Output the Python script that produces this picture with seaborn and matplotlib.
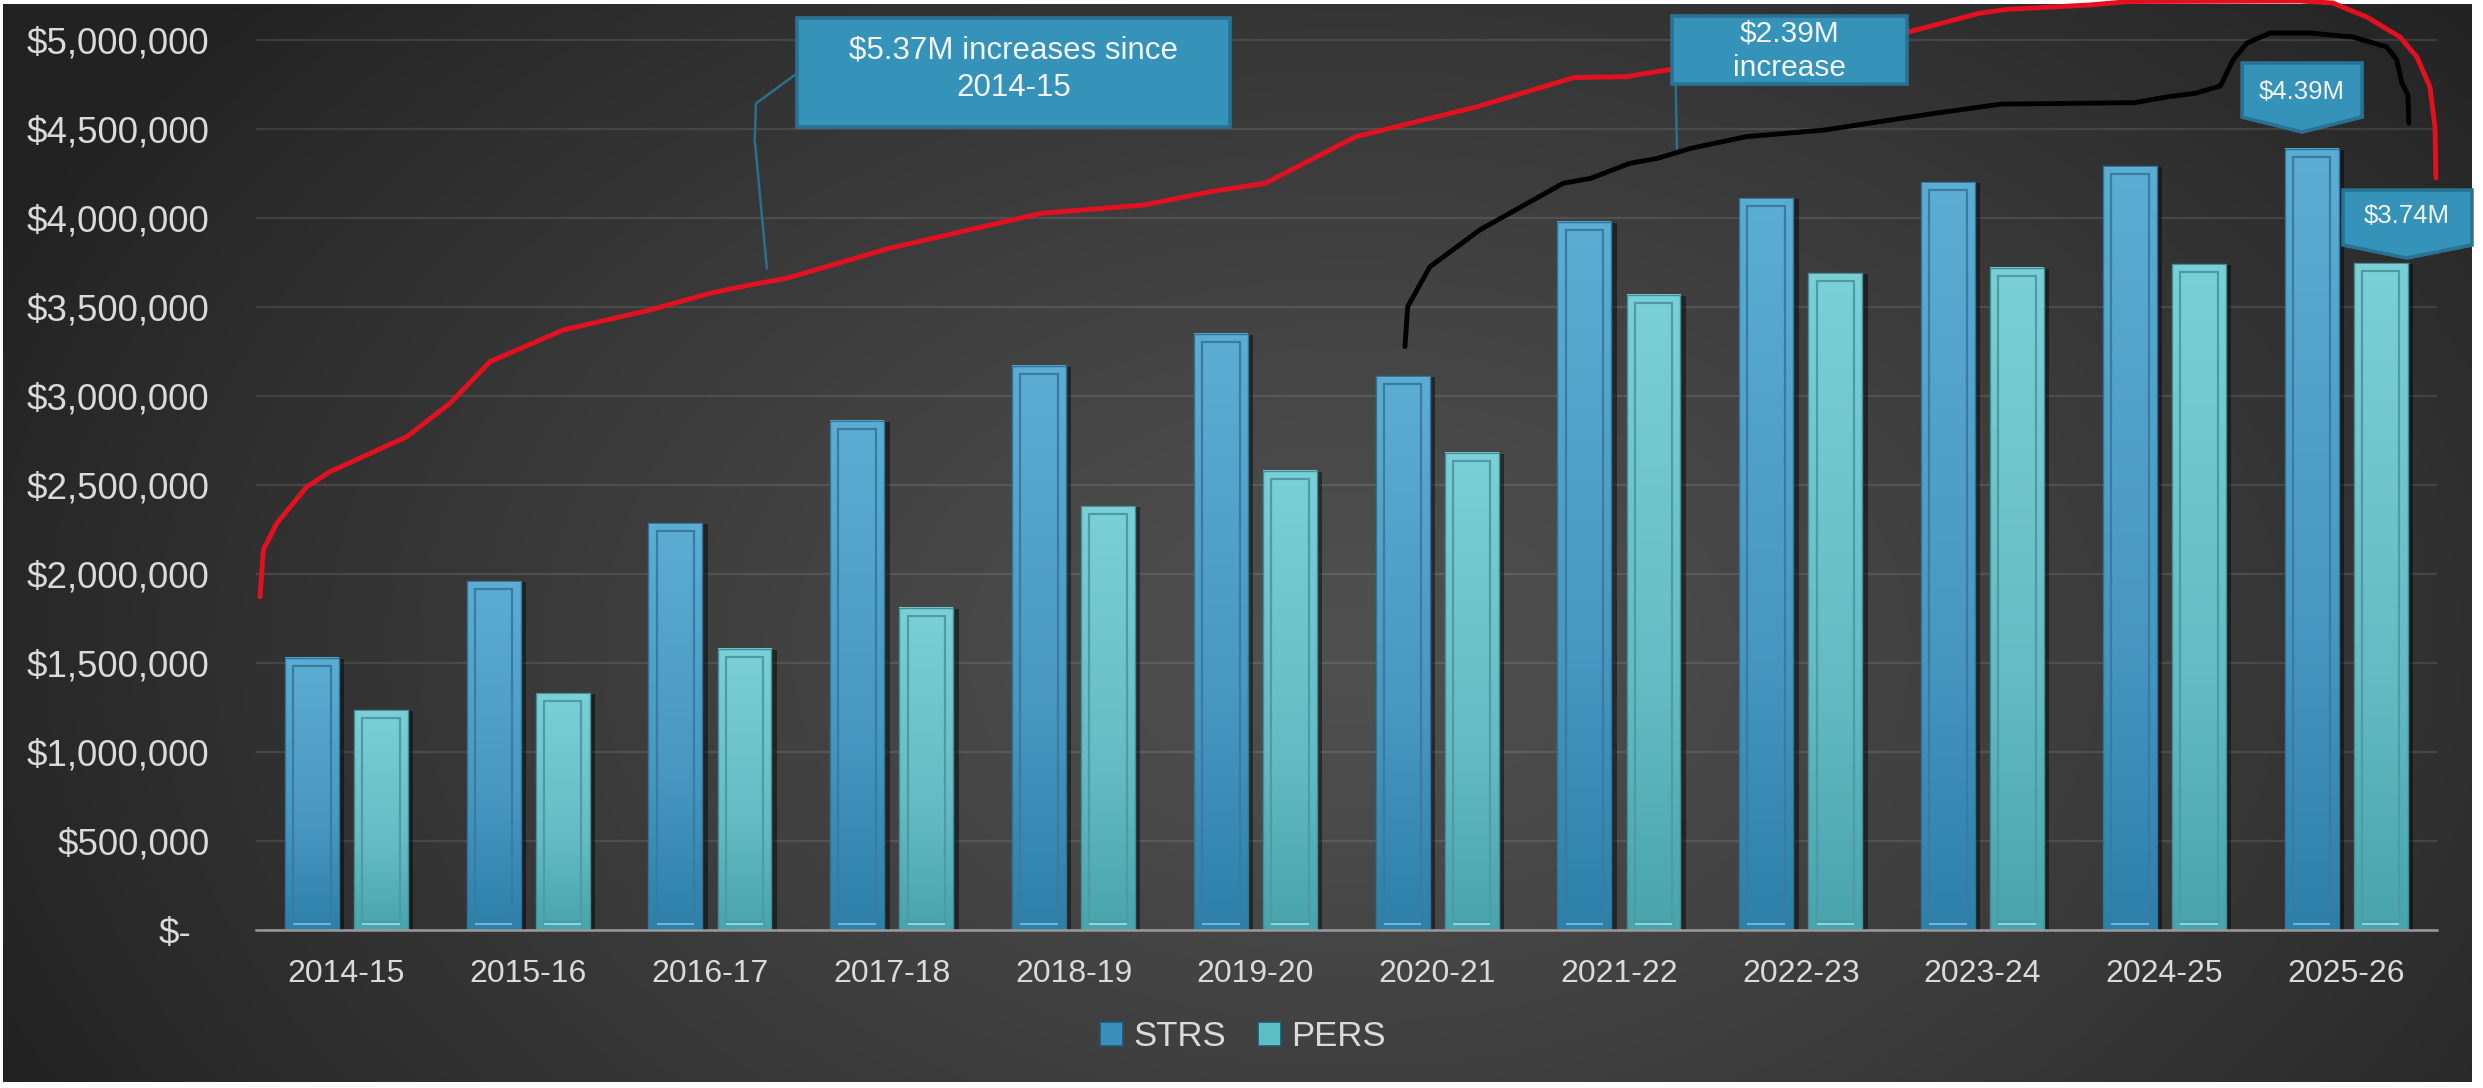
import numpy as np
import pandas as pd
import matplotlib
matplotlib.use("Agg")
import matplotlib.pyplot as plt
import seaborn as sns
from matplotlib.patches import Rectangle, Polygon
from matplotlib.colors import LinearSegmentedColormap
import matplotlib.transforms as mtransforms
from matplotlib.ticker import FixedLocator, FuncFormatter

# ---------------- data ----------------
years = ["2014-15", "2015-16", "2016-17", "2017-18", "2018-19", "2019-20",
         "2020-21", "2021-22", "2022-23", "2023-24", "2024-25", "2025-26"]
strs = [1530000, 1960000, 2285000, 2860000, 3170000, 3350000,
        3110000, 3980000, 4110000, 4200000, 4290000, 4390000]
pers = [1235000, 1330000, 1580000, 1810000, 2380000, 2580000,
        2680000, 3570000, 3690000, 3720000, 3740000, 3745000]
series_names = ["STRS", "PERS"]
y_ticks = [0, 500000, 1000000, 1500000, 2000000, 2500000,
           3000000, 3500000, 4000000, 4500000, 5000000]

callout_total = "$5.37M increases since\n2014-15"
callout_recent = "$2.39M\nincrease"
callout_strs = "$4.39M"
callout_pers = "$3.74M"

# hand-drawn annotation strokes (x: category position, y: $ millions)
red_x = [-0.475, -0.457, -0.383, -0.218, -0.090, 0.332, 0.570, 0.790, 1.193, 1.670,
         2.000, 2.220, 2.420, 2.987, 3.820, 4.386, 4.753, 5.053, 5.553, 6.219,
         6.752, 7.038, 7.286, 8.600, 8.981, 9.134, 9.592, 9.805, 10.746, 10.927,
         11.114, 11.296, 11.390, 11.461, 11.489, 11.494]
red_y = [1.872, 2.135, 2.285, 2.490, 2.575, 2.771, 2.959, 3.193, 3.371, 3.483,
         3.577, 3.624, 3.661, 3.830, 4.026, 4.073, 4.148, 4.195, 4.457, 4.625,
         4.789, 4.794, 4.835, 5.047, 5.150, 5.172, 5.197, 5.216, 5.219, 5.208,
         5.129, 5.017, 4.904, 4.736, 4.511, 4.225]
black_x = [5.823, 5.838, 5.960, 6.235, 6.693, 6.845, 7.059, 7.211, 7.394, 7.700,
           8.127, 8.737, 9.103, 9.836, 10.019, 10.172, 10.309, 10.378, 10.455,
           10.581, 10.801, 11.037, 11.224, 11.279, 11.307, 11.340, 11.345]
black_y = [3.277, 3.502, 3.726, 3.933, 4.195, 4.223, 4.307, 4.335, 4.391, 4.457,
           4.494, 4.588, 4.640, 4.648, 4.681, 4.701, 4.742, 4.888, 4.983,
           5.039, 5.039, 5.017, 4.961, 4.888, 4.758, 4.691, 4.534]
leader1_x = [2.503, 2.253, 2.246, 2.313]
leader1_y = [4.831, 4.644, 4.438, 3.717]
leader2_x = [7.312, 7.319]
leader2_y = [4.757, 4.391]

df = pd.DataFrame({
    "Year": years * 2,
    "Series": [series_names[0]] * len(years) + [series_names[1]] * len(years),
    "Value": strs + pers,
})

# ---------------- style ----------------
sns.set_style("white")
plt.rcParams["font.family"] = ["Liberation Sans", "DejaVu Sans"]
TXT = "#dadada"

W, H = 2483, 1088
fig = plt.figure(figsize=(W / 100, H / 100), dpi=100)
fig.patch.set_facecolor("white")

# background panel with soft radial gradient
bg = fig.add_axes([0, 0, 1, 1], zorder=-10)
bg.set_xlim(0, W)
bg.set_ylim(H, 0)
bg.axis("off")
px0, px1, py0, py1 = 3, 2472, 4, 1082
yy, xx = np.mgrid[py0:py1:3, px0:px1:3]
d = np.sqrt(((xx - 1350) / 1500.0) ** 2 + ((yy - 650) / 1000.0) ** 2)
d = np.clip(d, 0, 1)
c = (0x50 - (0x50 - 0x22) * d ** 1.2) / 255.0
img = np.dstack([c, c, c])
bg.imshow(img, extent=(px0, px1, py1, py0), aspect="auto", interpolation="bilinear")

# main axes
ax = fig.add_axes([255.5 / W, 158 / H, (2437 - 255.5) / W, (930 - 4.4) / H], zorder=1)
ax.set_facecolor("none")

pal = {"STRS": "#4a9cc6", "PERS": "#68c0c8"}
sns.barplot(data=df, x="Year", y="Value", hue="Series", hue_order=series_names,
            palette=pal, width=0.76, gap=0.22, saturation=1, ax=ax,
            edgecolor="#2c6f93", linewidth=1.0, zorder=2)

# gradient / bevel bars
cmaps = {
    "STRS": LinearSegmentedColormap.from_list("s", [(0, "#2c80aa"), (0.4, "#4898c2"), (1, "#5cadd3")]),
    "PERS": LinearSegmentedColormap.from_list("p", [(0, "#48a4ad"), (0.4, "#66bcc4"), (1, "#7bd0d7")]),
}
inner_edge = {"STRS": "#3a7ca1", "PERS": "#4d9ca3"}
outer_edge = {"STRS": "#2f7398", "PERS": "#3f8f98"}
top_light = {"STRS": "#79c3e4", "PERS": "#98e0e6"}
grad = np.linspace(0, 1, 256).reshape(-1, 1)
for name, cont in zip(series_names, ax.containers):
    for bar in cont:
        x, w, h = bar.get_x(), bar.get_width(), bar.get_height()
        bar.set_facecolor("none")
        bar.set_edgecolor(outer_edge[name])
        bar.set_zorder(3.2)
        ax.add_patch(Rectangle((x + w, 0), 0.03, h - 6000, facecolor="black",
                               alpha=0.45, edgecolor="none", zorder=1.9))
        ax.imshow(grad, extent=(x, x + w, 0, h), origin="lower", aspect="auto",
                  cmap=cmaps[name], zorder=2.5, interpolation="bilinear")
        ax.add_patch(Rectangle((x, h - 9000), w, 9000, facecolor=top_light[name],
                               edgecolor="none", alpha=0.8, zorder=3))
        dx, dy = 0.045, 45000
        ax.add_patch(Rectangle((x + dx, dy), w - 2 * dx, h - 2 * dy, facecolor="none",
                               edgecolor=inner_edge[name], linewidth=1.6, zorder=3.1))
        ax.plot([x + dx, x + w - dx], [dy * 0.75, dy * 0.75], color=top_light[name],
                lw=1.4, alpha=0.85, zorder=3.1, solid_capstyle="butt")

ax.set_ylim(0, 5.2e6)
ax.set_xlim(-0.5, len(years) - 0.5)

# axes styling
for s in ["top", "right", "left"]:
    ax.spines[s].set_visible(False)
ax.spines["bottom"].set_color("#9a9a9a")
ax.spines["bottom"].set_linewidth(1.8)
ax.spines["bottom"].set_zorder(4)
ax.yaxis.set_major_locator(FixedLocator(y_ticks))
ax.yaxis.set_major_formatter(FuncFormatter(lambda v, p: "$-" if v == 0 else f"${v:,.0f}"))
ax.grid(axis="y", color="white", alpha=0.1, linewidth=1.6)
ax.grid(axis="x", visible=False)
ax.set_axisbelow(True)
ax.tick_params(axis="y", length=0, pad=33, labelsize=26.5, labelcolor=TXT)
ax.tick_params(axis="x", length=0, pad=21, labelsize=23, labelcolor=TXT)
ax.set_xlabel("")
ax.set_ylabel("")

# legend
leg_old = ax.get_legend()
handles = list(leg_old.legend_handles)
labels = [t.get_text() for t in leg_old.texts]
leg_old.remove()
for hdl, nm in zip(handles, labels):
    hdl.set_edgecolor("#1f5670")
    hdl.set_linewidth(1.2)
    hdl.set_facecolor({"STRS": "#3a8fbb", "PERS": "#5bbfc5"}[nm])
leg = ax.legend(handles, labels, loc="center", bbox_to_anchor=(0.5006, 0.0472),
                bbox_transform=fig.transFigure, ncol=2, frameon=False, fontsize=25,
                handlelength=0.66, handleheight=0.66, handletextpad=0.3,
                columnspacing=0.9, labelcolor=TXT)

# hand-drawn strokes
ax.plot(red_x, np.array(red_y) * 1e6, color="#e3111f", lw=3.5, zorder=5,
        clip_on=False, solid_capstyle="round", solid_joinstyle="round")
ax.plot(black_x, np.array(black_y) * 1e6, color="black", lw=3.5, zorder=5,
        clip_on=False, solid_capstyle="round", solid_joinstyle="round")
ax.plot(leader1_x, np.array(leader1_y) * 1e6, color="#2b6f8f", lw=1.8, zorder=5.5, clip_on=False)
ax.plot(leader2_x, np.array(leader2_y) * 1e6, color="#2b6f8f", lw=1.8, zorder=5.5, clip_on=False)

BOX_FC, BOX_EC = "#3593b9", "#2a7293"


def box(pts, text, tx, ty, fs, ls=1.0):
    ax.add_patch(Polygon([(px, py * 1e6) for px, py in pts], closed=True, facecolor=BOX_FC,
                         edgecolor=BOX_EC, linewidth=2.6, zorder=6, clip_on=False))
    ax.text(tx, ty * 1e6, text, ha="center", va="center", fontsize=fs, color="#f4f4f4",
            zorder=7, linespacing=ls, clip_on=False)


box([(2.478, 5.122), (4.861, 5.122), (4.861, 4.513), (2.478, 4.513)],
    callout_total, 3.669, 4.835, 22.5, 1.3)
box([(7.294, 5.135), (8.585, 5.135), (8.585, 4.753), (7.294, 4.753)],
    callout_recent, 7.939, 4.940, 21.5, 1.3)
box([(10.428, 4.871), (11.088, 4.871), (11.088, 4.567), (10.758, 4.483), (10.428, 4.567)],
    callout_strs, 10.758, 4.708, 18.5)
box([(10.983, 4.157), (11.692, 4.157), (11.692, 3.848), (11.334, 3.775), (10.983, 3.848)],
    callout_pers, 11.334, 4.011, 18.5)

# accounting-style "$-" label sits a bit left of the others
lab0 = ax.get_yticklabels()[0]
lab0.set_transform(lab0.get_transform() + mtransforms.ScaledTranslation(-0.18, 0, fig.dpi_scale_trans))

fig.savefig("out.png", dpi=100, facecolor=fig.get_facecolor())
